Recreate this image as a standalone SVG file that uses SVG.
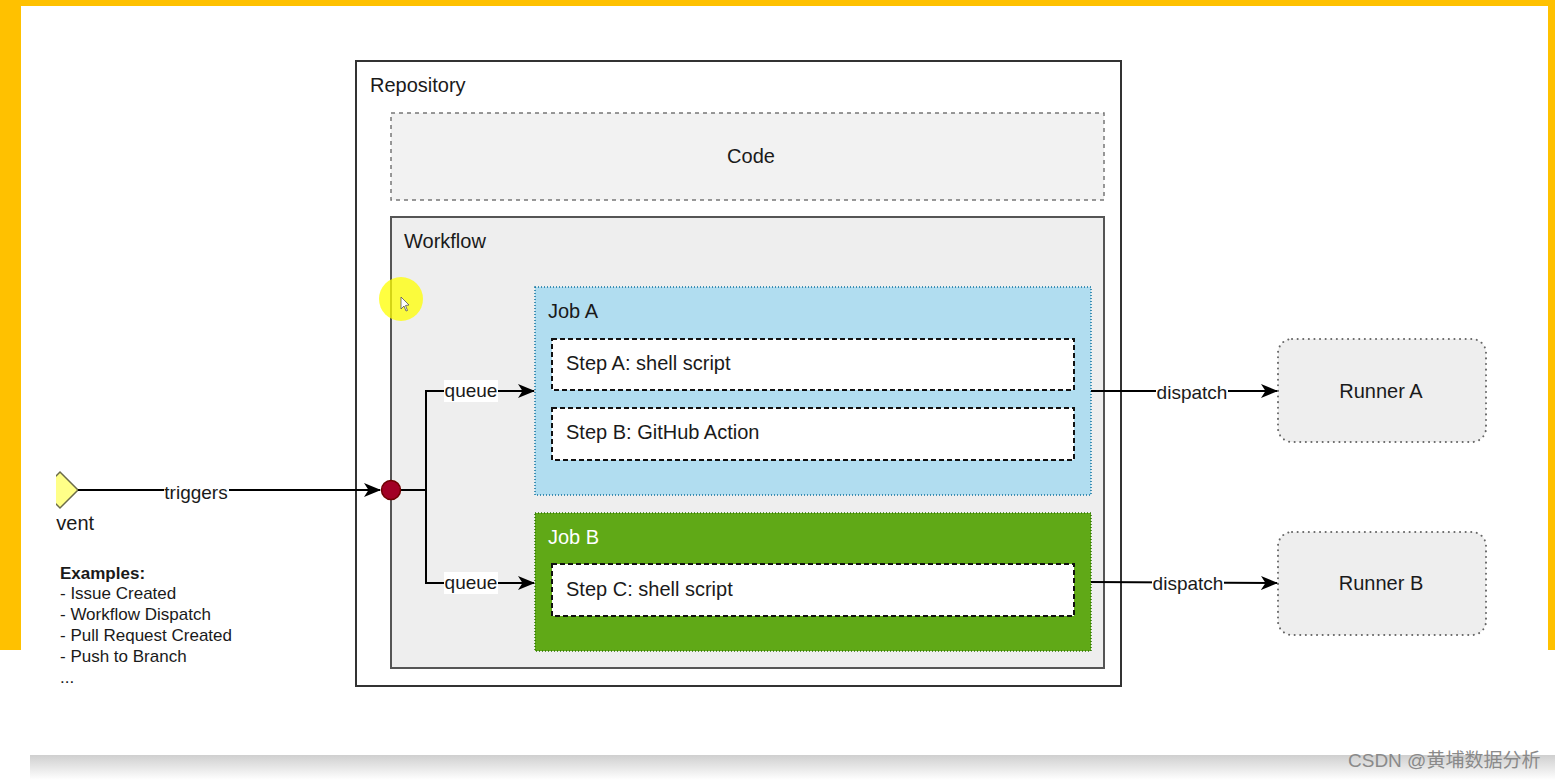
<svg xmlns="http://www.w3.org/2000/svg" width="1555" height="780" viewBox="0 0 1555 780">
<style>
text{font-family:"Liberation Sans",Arial,sans-serif;fill:#1a1a1a}
.t20{font-size:20px}
.lbl{font-size:19px;dominant-baseline:central;text-anchor:middle}
.ex{font-size:17px}
.conn{stroke:#000;stroke-width:2;fill:none}
.step{fill:#fff;stroke:#111;stroke-width:2;stroke-dasharray:5,3}
.runner{fill:#eeeeee;stroke:#666;stroke-width:2;stroke-dasharray:0.1,5.5;stroke-linecap:round}
</style>
<defs>
<marker id="arr" markerUnits="userSpaceOnUse" markerWidth="18" markerHeight="16" refX="16" refY="8" orient="auto">
<path d="M0,1 L17,8 L0,15 L4.5,8 z" fill="#000"/>
</marker>
<linearGradient id="shadow" x1="0" y1="0" x2="0" y2="1">
<stop offset="0" stop-color="#cfcfcf"/>
<stop offset="1" stop-color="#ffffff"/>
</linearGradient>
<clipPath id="leftclip"><rect x="56" y="400" width="200" height="200"/></clipPath>
</defs>
<!-- background -->
<rect x="0" y="0" width="1555" height="780" fill="#ffffff"/>
<rect x="0" y="0" width="1555" height="650" fill="#ffc100"/>
<rect x="30" y="755" width="1525" height="25" fill="url(#shadow)"/>
<rect x="21" y="6" width="1527" height="749" fill="#ffffff"/>

<g id="repository">
<rect x="356" y="61" width="765" height="625" fill="#ffffff" stroke="#333" stroke-width="2"/>
<text class="t20" x="370" y="92">Repository</text>
</g>
<g id="code">
<rect x="391" y="113" width="713" height="87" fill="#f2f2f2" stroke="#777" stroke-width="1.5" stroke-dasharray="4,4"/>
<text class="t20" x="751" y="163" text-anchor="middle" fill="#333">Code</text>
</g>
<g id="workflow">
<rect x="391" y="217" width="713" height="451" fill="#eeeeee" stroke="#555" stroke-width="2"/>
<text class="t20" x="404" y="248">Workflow</text>
</g>
<g id="cursor">
<circle cx="401" cy="299" r="22" fill="#ffff00" opacity="0.75"/>
<path d="M401,297 L401,309 L404,306 L406,311 L407.5,310.5 L405.5,305.5 L409,305 z" fill="#fff" stroke="#555" stroke-width="0.8"/>
</g>
<g id="jobA">
<rect x="535" y="287" width="556" height="208" fill="#b1ddf0" stroke="#10739e" stroke-width="1.5" stroke-dasharray="1,2"/>
<text class="t20" x="548" y="318">Job A</text>
</g>
<g id="stepA">
<rect class="step" x="552" y="339" width="522" height="51"/>
<text class="t20" x="566" y="370">Step A: shell script</text>
</g>
<g id="stepB">
<rect class="step" x="552" y="408" width="522" height="52"/>
<text class="t20" x="566" y="439">Step B: GitHub Action</text>
</g>
<g id="jobB">
<rect x="535" y="513" width="556" height="138" fill="#60a917" stroke="#2d7600" stroke-width="1.5" stroke-dasharray="1,2"/>
<text class="t20" x="548" y="544" style="fill:#ffffff">Job B</text>
</g>
<g id="stepC">
<rect class="step" x="552" y="564" width="522" height="52"/>
<text class="t20" x="566" y="596">Step C: shell script</text>
</g>
<g id="runnerA">
<rect class="runner" x="1278" y="339" width="208" height="103" rx="14"/>
<text class="t20" x="1381" y="398" text-anchor="middle">Runner A</text>
</g>
<g id="runnerB">
<rect class="runner" x="1278" y="532" width="208" height="103" rx="14"/>
<text class="t20" x="1381" y="590" text-anchor="middle">Runner B</text>
</g>
<g id="event" clip-path="url(#leftclip)">
<path d="M60,472 L78,490 L60,508 L42,490 z" fill="#ffff88" stroke="#6b6b4a" stroke-width="1.5"/>
<text class="t20" x="43" y="530">Event</text>
</g>
<g id="examples">
<text class="ex" x="60" y="579" font-weight="bold">Examples:</text>
<text class="ex" x="60" y="599">- Issue Created</text>
<text class="ex" x="60" y="620">- Workflow Dispatch</text>
<text class="ex" x="60" y="641">- Pull Request Created</text>
<text class="ex" x="60" y="662">- Push to Branch</text>
<text class="ex" x="60" y="683">...</text>
</g>

<g id="connectors">
<path class="conn" d="M78,490 L380,490" marker-end="url(#arr)"/>
<rect x="164" y="481" width="65" height="22" fill="#fff"/>
<text class="lbl" x="196" y="492">triggers</text>

<path class="conn" d="M400,490 L426,490 L426,391 L534,391" marker-end="url(#arr)"/>
<path class="conn" d="M426,490 L426,583 L534,583" marker-end="url(#arr)"/>
<rect x="444" y="380" width="54" height="22" fill="#fff"/>
<text class="lbl" x="471" y="390">queue</text>
<rect x="444" y="572" width="54" height="22" fill="#fff"/>
<text class="lbl" x="471" y="582">queue</text>

<path class="conn" d="M1091,391 L1277,391" marker-end="url(#arr)"/>
<rect x="1156" y="381" width="72" height="22" fill="#fff"/>
<text class="lbl" x="1192" y="392">dispatch</text>
<path class="conn" d="M1091,582 L1277,583" marker-end="url(#arr)"/>
<rect x="1152" y="572" width="72" height="22" fill="#fff"/>
<text class="lbl" x="1188" y="583">dispatch</text>
</g>
<g id="dot">
<circle cx="391" cy="490" r="9.5" fill="#a20025" stroke="#6f0000" stroke-width="1.5"/>
</g>
<g id="watermark">
<text x="1348" y="767" font-size="19" style="fill:#8a8a8a;font-family:'Liberation Sans','Noto Sans CJK SC',sans-serif">CSDN @黄埔数据分析</text>
</g>
</svg>
